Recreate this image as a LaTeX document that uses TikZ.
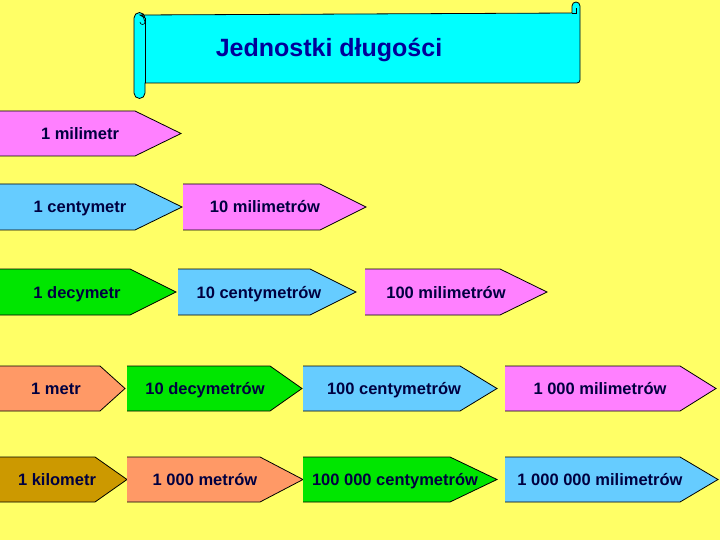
\documentclass[tikz,border=0pt]{standalone}
\usepackage{fontspec}
\setmainfont{Liberation Sans}
\definecolor{bg}{RGB}{255,255,102}
\definecolor{pk}{RGB}{255,128,255}
\definecolor{lb}{RGB}{102,204,255}
\definecolor{gr}{RGB}{0,230,0}
\definecolor{orr}{RGB}{255,153,102}
\definecolor{gd}{RGB}{204,153,0}
\definecolor{cy}{RGB}{0,255,255}
\definecolor{ttl}{RGB}{0,0,153}
\definecolor{lbl}{RGB}{0,0,64}
\tikzset{arrbox/.style={draw=black,line width=0.8pt,line join=miter},
lab/.style={font=\fontsize{16.5}{18}\selectfont\bfseries,text=lbl,inner sep=0pt,anchor=base}}
\newcommand\arr[9]{%
\fill[#6] (#1pt,-#4pt) -- (#2pt,-#4pt) -- (#3pt,-#4pt/2-#5pt/2) -- (#2pt,-#5pt) -- (#1pt,-#5pt) -- cycle;
\draw[arrbox] (#1pt,-#4pt) -- (#2pt,-#4pt) -- (#3pt,-#4pt/2-#5pt/2) -- (#2pt,-#5pt) -- (#1pt,-#5pt);
\node[lab] (#9) at (#7pt,-#4pt/2-#5pt/2-6pt) {#8};}
\begin{document}
\begin{tikzpicture}[x=1pt,y=1pt]
\fill[bg] (0,0) rectangle (720,-540);
\useasboundingbox (0,0) rectangle (720,-540);
% scroll
\draw[fill=cy,line width=0.8pt] (140,-15) -- (572,-13) -- (572,-6) arc(180:0:4) -- (580,-80) arc(0:-90:3) -- (145,-83) -- (145,-93) arc(0:-180:5.5) -- (134,-18) arc(180:0:5.5) -- cycle;
\draw[line width=0.6pt] (145,-18) -- (145,-83);
\draw[line width=0.6pt] (140,-22) arc(180:360:2.5) -- (142.5,-15);
\draw[line width=0.6pt] (572,-13) -- (576,-13) -- (576,-8);
\node[font=\fontsize{25}{28}\selectfont\bfseries,text=ttl,anchor=base] (title) at (329,-57) {Jednostki długości};
% rows
\arr{0}{135}{181}{111}{156}{pk}{80}{1 milimetr}{a1}
\arr{0}{135}{182}{184}{230}{lb}{80}{1 centymetr}{b1}
\arr{183}{320}{366}{184}{230}{pk}{265}{10 milimetrów}{b2}
\arr{0}{130}{176}{269}{315}{gr}{77}{1 decymetr}{c1}
\arr{178}{310}{356}{269}{315}{lb}{259}{10 centymetrów}{c2}
\arr{365}{500}{547}{269}{315}{pk}{446}{100 milimetrów}{c3}
\arr{0}{100}{125}{366}{411}{orr}{56}{1 metr}{d1}
\arr{127}{270}{302}{366}{411}{gr}{205}{10 decymetrów}{d2}
\arr{303}{460}{497}{366}{411}{lb}{394}{100 centymetrów}{d3}
\arr{505}{680}{716}{366}{411}{pk}{600}{1 000 milimetrów}{d4}
\arr{0}{95}{127}{457}{502}{gd}{57}{1 kilometr}{e1}
\arr{127}{260}{303}{457}{502}{orr}{205}{1 000 metrów}{e2}
\arr{303}{450}{497}{457}{502}{gr}{395}{100 000 centymetrów}{e3}
\arr{505}{680}{718}{457}{502}{lb}{600}{1 000 000 milimetrów}{e4}
\end{tikzpicture}
\end{document}
